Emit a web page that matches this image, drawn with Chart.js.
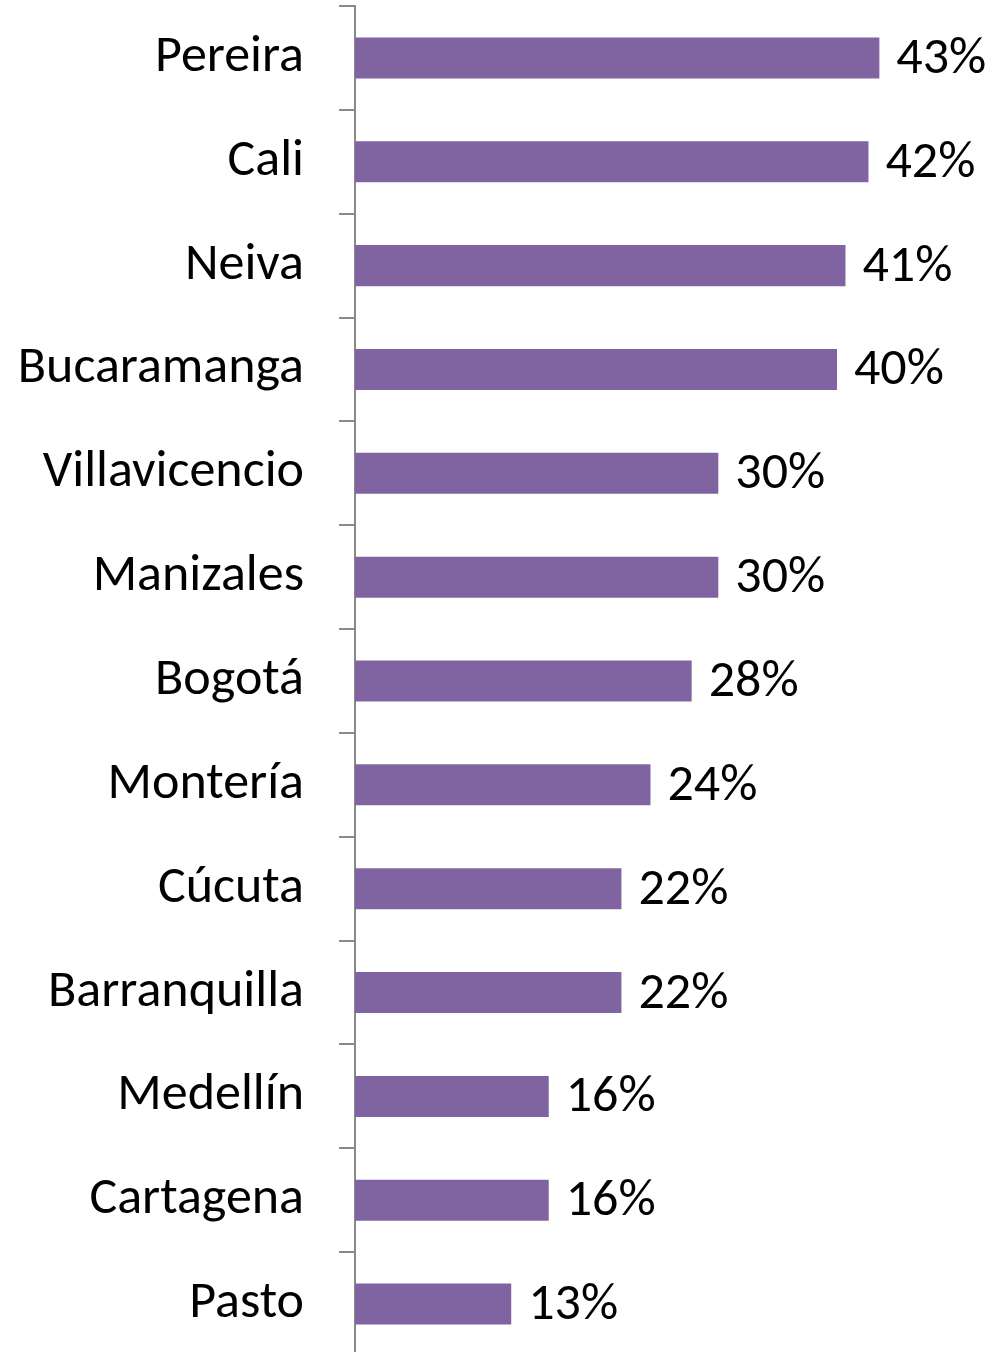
<!DOCTYPE html>
<html>
<head>
<meta charset="utf-8">
<script src="https://cdn.jsdelivr.net/npm/chart.js@4"></script>
<style>
  html, body { margin: 0; padding: 0; background: #fff; overflow: hidden; }
  #wrap { width: 992px; height: 1356px; }
</style>
</head>
<body>
<div id="wrap"><canvas id="chart" width="992" height="1356"></canvas></div>
<script>
const cities = ["Pereira", "Cali", "Neiva", "Bucaramanga", "Villavicencio", "Manizales",
  "Bogotá", "Montería", "Cúcuta", "Barranquilla", "Medellín", "Cartagena", "Pasto"];
const shares = [43.3, 42.4, 40.5, 39.8, 30.0, 30.0, 27.8, 24.4, 22.0, 22.0, 16.0, 16.0, 12.9];

const FONT = "Carlito, Calibri, Lato, sans-serif";

// etiquetas de porcentaje al final de cada barra
const valueLabels = {
  id: "valueLabels",
  afterDatasetsDraw(chart) {
    const ctx = chart.ctx;
    const meta = chart.getDatasetMeta(0);
    ctx.save();
    ctx.font = "52px " + FONT;
    ctx.fillStyle = "#000";
    ctx.textAlign = "left";
    ctx.textBaseline = "middle";
    meta.data.forEach((bar, i) => {
      ctx.fillText(Math.round(shares[i]) + "%", bar.x + 17, bar.y + 2);
    });
    ctx.restore();
  }
};

new Chart(document.getElementById("chart"), {
  type: "bar",
  data: {
    labels: cities,
    datasets: [{
      data: shares,
      backgroundColor: "#8064A2",
      borderWidth: 0,
      categoryPercentage: 1,
      barPercentage: 0.395
    }]
  },
  options: {
    indexAxis: "y",
    responsive: false,
    animation: false,
    layout: { padding: { top: 6, right: 0, bottom: 0, left: 0 } },
    plugins: { legend: { display: false }, tooltip: { enabled: false } },
    scales: {
      x: {
        display: false,
        min: 0,
        max: 52.6
      },
      y: {
        afterFit(scale) {
          scale.width = 355;
          scale.paddingTop = 0;
          scale.paddingBottom = 0;
        },
        grid: {
          drawOnChartArea: false,
          tickLength: 16,
          color: "#898989",
          lineWidth: 2,
          offset: true
        },
        border: { color: "#898989", width: 2 },
        ticks: {
          color: "#000",
          padding: 35,
          font: { family: FONT, size: 52 }
        }
      }
    }
  },
  plugins: [valueLabels]
});
</script>
</body>
</html>
